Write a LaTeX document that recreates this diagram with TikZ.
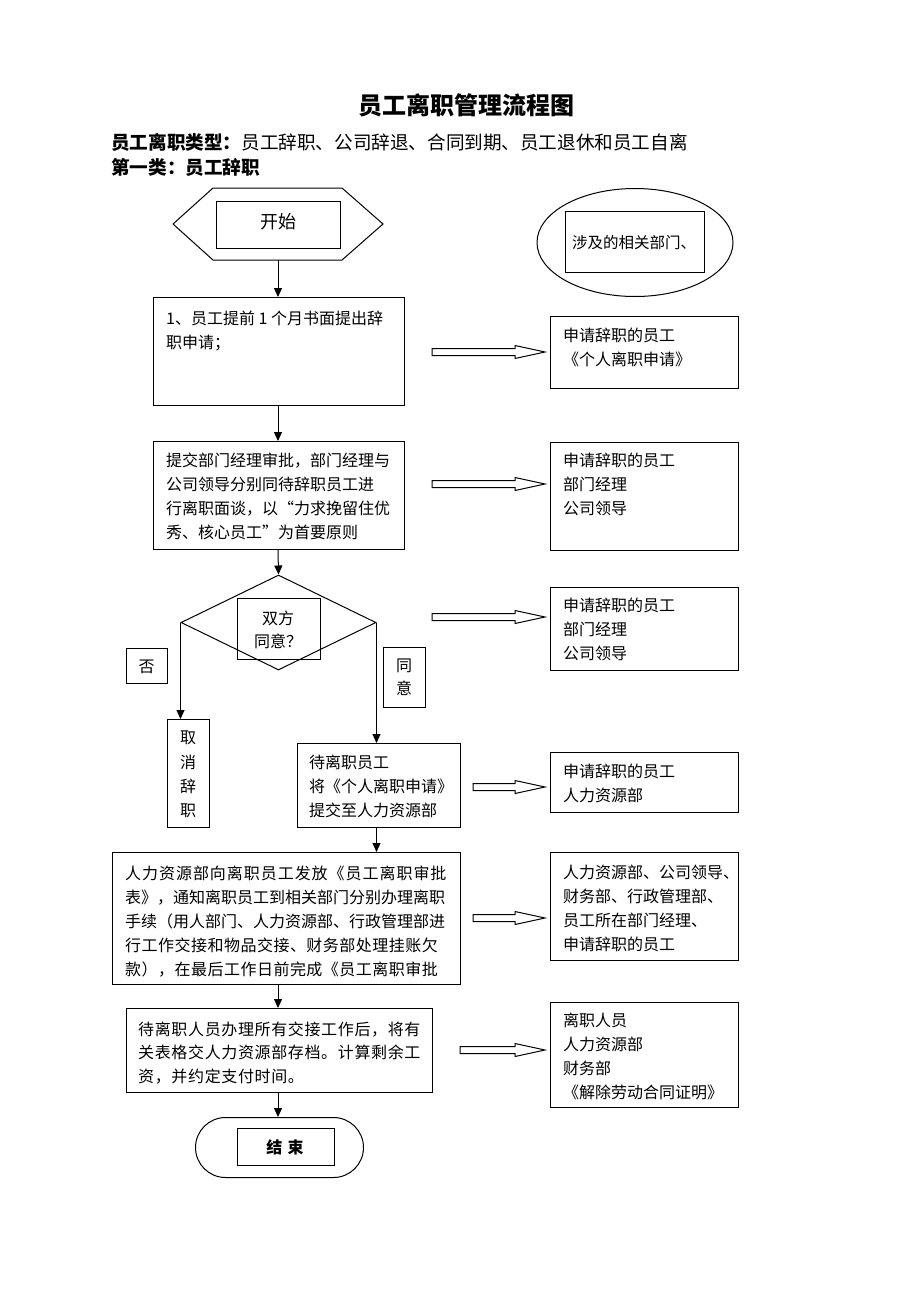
\documentclass[tikz,border=0pt]{standalone}
\usepackage{fontspec}
\setmainfont{Noto Sans CJK SC}
\usetikzlibrary{shapes.geometric,arrows.meta}
\tikzset{
  box/.style={draw, line width=1pt, inner sep=0pt, anchor=north west},
  txt/.style={inner sep=0pt, anchor=base west, font=\fontsize{16}{24}\selectfont},
  txtc/.style={inner sep=0pt, anchor=base, font=\fontsize{16}{24}\selectfont},
  conn/.style={line width=1pt, -{Triangle[length=9pt,width=8pt]}},
  hollow/.style={draw, line width=1pt, fill=white},
}
\newcommand\boxat[5]{\node[box, minimum width={#4-#2}, minimum height={#5-#3}] (#1) at (#2,#3) {};}
\newcommand\tlines[5][]{\foreach \t [count=\i from 0] in {#5} {\node[txt,#1] (#2-\i) at (#3, {#4+6+24*\i}) {\t};}}
\newcommand\harrow[2]{\path[hollow] (#1,{#2-3.5}) -- (515,{#2-3.5}) -- (515,{#2-6.5}) -- (545,#2) -- (515,{#2+6.5}) -- (515,{#2+3.5}) -- (#1,{#2+3.5}) -- cycle;}
\begin{document}
\begin{tikzpicture}[x=1pt,y=-1pt]
\useasboundingbox[fill=white] (0,0) rectangle (920,1302);
% header
\node[inner sep=0pt, font=\fontsize{24}{24}\selectfont\bfseries] (title) at (466,105) {员工离职管理流程图};
\node[inner sep=0pt, anchor=base west, font=\fontsize{18.6}{18}\selectfont] (sub1) at (111,149) {\textbf{员工离职类型：}员工辞职、公司辞退、合同到期、员工退休和员工自离};
\node[inner sep=0pt, anchor=base west, font=\fontsize{18.6}{18}\selectfont\bfseries] (sub2) at (111,174) {第一类：员工辞职};
% start hexagon
\draw[line width=1pt] (173,224) -- (213,188) -- (342,188) -- (383,224) -- (342,260) -- (213,260) -- cycle;
\coordinate (hexb) at (278,260);
\boxat{start}{216}{201}{340}{248}
\node[inner sep=0pt, font=\fontsize{18}{18}\selectfont] (starttxt) at (278,222) {开始};
% ellipse
\node[draw, ellipse, line width=1pt, inner sep=0pt, minimum width=196pt, minimum height=108pt] (ell) at (635,242.5) {};
\boxat{dept}{565}{211}{704}{272}
\node[inner sep=0pt, font=\fontsize{15.5}{18}\selectfont] (depttxt) at (634,243) {涉及的相关部门、};
% left column boxes
\boxat{b1}{153}{297}{404}{405}
\tlines{b1t}{166}{318}{1、员工提前 1 个月书面提出辞,职申请；}
\boxat{b2}{153}{441}{404}{549}
\tlines{b2t}{166}{460}{提交部门经理审批，部门经理与,公司领导分别同待辞职员工进,行离职面谈，以“力求挽留住优,秀、核心员工”为首要原则}
% diamond
\node[draw, diamond, line width=1pt, inner sep=0pt, minimum width=195pt, minimum height=95pt] (dia) at (278.5,622.5) {};
\boxat{dq}{237}{598}{320}{659}
\node[txtc] (dq1) at (278,624) {双方};
\node[txtc] (dq2) at (278,647) {同意？};
\boxat{no}{126}{648}{167}{683}
\node[txtc] (notxt) at (146.5,672) {否};
\boxat{yes}{383}{647}{425}{707}
\node[txtc] (yes1) at (404,671) {同};
\node[txtc] (yes2) at (404,694) {意};
\boxat{cancel}{167}{719}{209}{827}
\node[txtc] (c1) at (188,743) {取};
\node[txtc] (c2) at (188,768) {消};
\node[txtc] (c3) at (188,792) {辞};
\node[txtc] (c4) at (188,816) {职};
\boxat{wait}{297}{743}{460}{827}
\tlines{waitt}{309}{762}{待离职员工,将《个人离职申请》,提交至人力资源部}
\boxat{hr}{112}{852}{460}{984}
\node[txt, font=\fontsize{16}{24}\selectfont\addfontfeatures{LetterSpace=6}] (hr0) at (125,879) {人力资源部向离职员工发放《员工离职审批};
\node[txt] (hr1) at (125,903) {表》，通知离职员工到相关部门分别办理离职};
\node[txt] (hr2) at (125,927) {手续（用人部门、人力资源部、行政管理部进};
\node[txt, font=\fontsize{16}{24}\selectfont\addfontfeatures{LetterSpace=3}] (hr3) at (125,951) {行工作交接和物品交接、财务部处理挂账欠};
\node[txt, font=\fontsize{16}{24}\selectfont\addfontfeatures{LetterSpace=3}] (hr4) at (125,975) {款），在最后工作日前完成《员工离职审批};
\boxat{last}{126}{1008}{432}{1092}
\node[txt, font=\fontsize{16}{24}\selectfont\addfontfeatures{LetterSpace=4}] (lt0) at (138,1035) {待离职人员办理所有交接工作后，将有};
\node[txt, font=\fontsize{16}{24}\selectfont\addfontfeatures{LetterSpace=4}] (lt1) at (138,1058) {关表格交人力资源部存档。计算剩余工};
\node[txt, font=\fontsize{16}{24}\selectfont\addfontfeatures{LetterSpace=4}] (lt2) at (138,1082) {资，并约定支付时间。};
% end
\node[draw, line width=1pt, rounded corners=30pt, inner sep=0pt, minimum width=168pt, minimum height=60pt, anchor=north west] (endout) at (195,1117) {};
\boxat{endb}{237}{1128}{334}{1165}
\node[inner sep=0pt, font=\fontsize{16}{16}\selectfont\bfseries] (endtxt) at (285,1147) {结\,\,束};
% right column boxes
\boxat{r1}{550}{316}{738}{388}
\tlines{r1t}{563}{335}{申请辞职的员工,《个人离职申请》}
\boxat{r2}{550}{442}{738}{550}
\tlines{r2t}{563}{460}{申请辞职的员工,部门经理,公司领导}
\boxat{r3}{550}{587}{738}{670}
\tlines{r3t}{563}{605}{申请辞职的员工,部门经理,公司领导}
\boxat{r4}{550}{752}{738}{812}
\tlines{r4t}{563}{771}{申请辞职的员工,人力资源部}
\boxat{r5}{550}{852}{738}{960}
\tlines{r5t}{563}{872}{人力资源部、公司领导、,财务部、行政管理部、,员工所在部门经理、,申请辞职的员工}
\boxat{r6}{550}{1002}{738}{1107}
\tlines{r6t}{563}{1020}{离职人员,人力资源部,财务部,《解除劳动合同证明》}
% hollow arrows
\harrow{432}{352}
\harrow{432}{484}
\harrow{432}{617}
\harrow{473}{787}
\harrow{473}{918}
\harrow{460}{1050}
% connectors
\draw[conn] (hexb) -- (hexb |- b1.north);
\draw[conn] (hexb |- b1.south) -- (hexb |- b2.north);
\draw[conn] (hexb |- b2.south) -- (dia.north);
\draw[conn] (dia.west) -- (dia.west |- cancel.north);
\draw[conn] (dia.east) -- (dia.east |- wait.north);
\draw[conn] (dia.east |- wait.south) -- (dia.east |- hr.north);
\draw[conn] (hexb |- hr.south) -- (hexb |- last.north);
\draw[conn] (hexb |- last.south) -- (hexb |- endout.north);
\end{tikzpicture}
\end{document}
